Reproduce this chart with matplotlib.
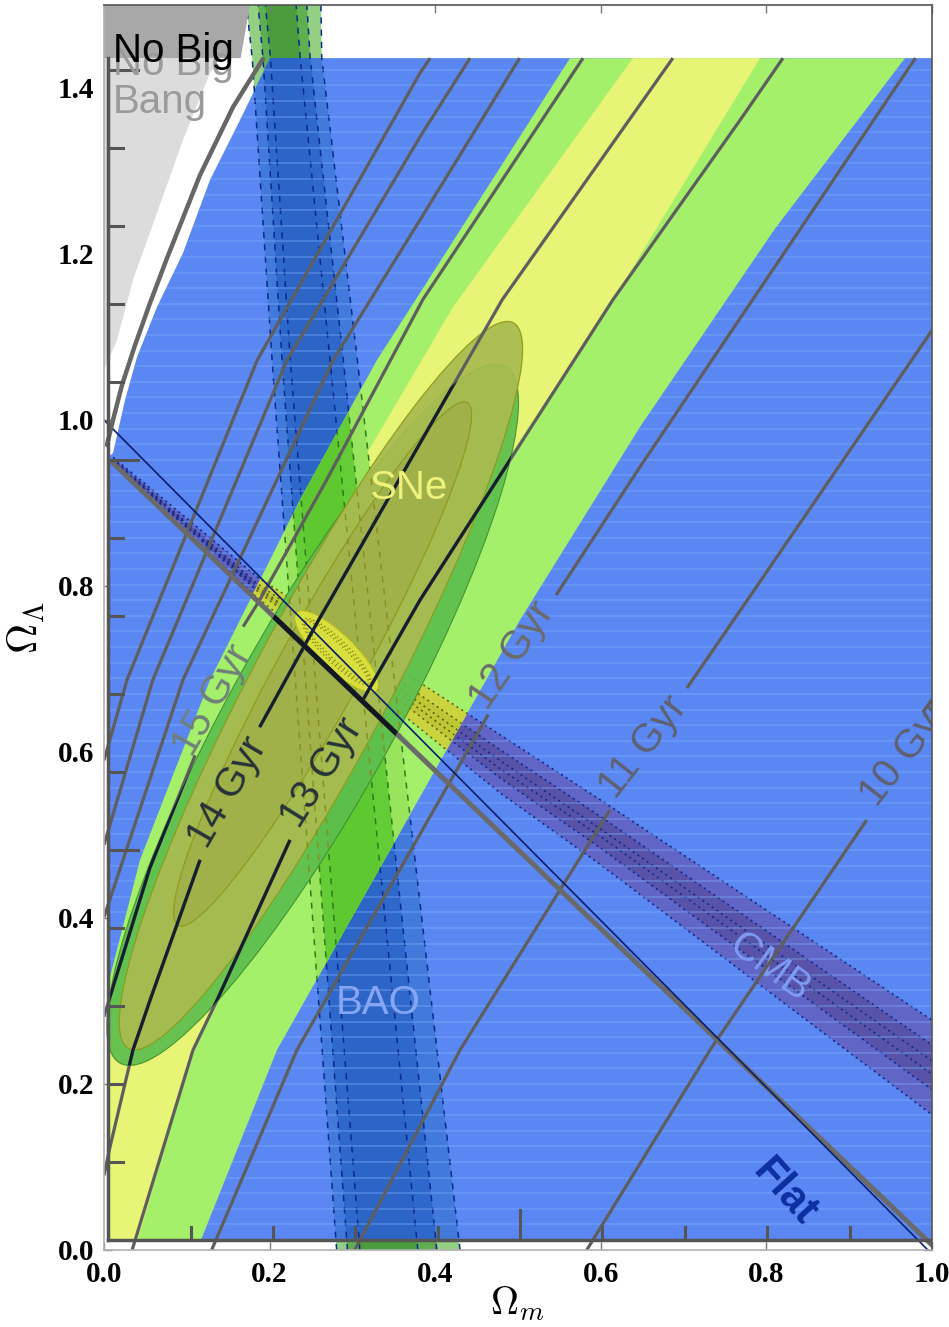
import numpy as np
import matplotlib
matplotlib.use("Agg")
import matplotlib.pyplot as plt
from matplotlib.patches import Polygon, Ellipse, Rectangle

# ---- values, x = Omega_m, y = Omega_Lambda ----
# age contours (NaN = gap left for the label)
age_10_x = [0.583, 0.732, 0.921, np.nan, 0.989, 1.0]
age_10_y = [0.0, 0.241, 0.518, np.nan, 0.648, 0.663]
age_11_x = [0.303, 0.430, 0.611, np.nan, 0.704, 0.777, 1.0]
age_11_y = [0.0, 0.241, 0.530, np.nan, 0.677, 0.783, 1.108]
age_12_x = [0.130, 0.233, 0.464, np.nan, 0.546, 0.647, 0.980]
age_12_y = [0.0, 0.241, 0.645, np.nan, 0.789, 0.943, 1.436]
age_13_x = [0.034, 0.1075, 0.1365, 0.2246, np.nan, 0.3128, 0.3816, 0.6147, 0.768, 0.820]
age_13_y = [0.0, 0.241, 0.301, 0.494, np.nan, 0.663, 0.783, 1.145, 1.361, 1.436]
age_14_x = [0.0, 0.0072, 0.035, 0.0556, 0.116, np.nan, 0.188, 0.257, 0.481, 0.687]
age_14_y = [0.090, 0.124, 0.241, 0.301, 0.470, np.nan, 0.630, 0.755, 1.145, 1.436]
age_15_x = [0.0, 0.0072, 0.0556, 0.110, np.nan, 0.168, 0.188, 0.269, 0.385, 0.5785]
age_15_y = [0.281, 0.305, 0.461, 0.596, np.nan, 0.751, 0.783, 0.928, 1.145, 1.436]
age_16_x = [0.0, 0.0954, 0.2766, 0.3816, 0.502]
age_16_y = [0.401, 0.687, 1.072, 1.241, 1.436]
age_17_x = [0.0, 0.059, 0.221, 0.3816, 0.442]
age_17_y = [0.488, 0.687, 1.072, 1.341, 1.436]
age_18_x = [0.0, 0.0278, 0.185, 0.3816, 0.394]
age_18_y = [0.590, 0.687, 1.072, 1.418, 1.436]

age_labels = ['15 Gyr', '14 Gyr', '13 Gyr', '12 Gyr', '11 Gyr', '10 Gyr']
age_label_x = [0.1316, 0.1498, 0.2633, 0.4928, 0.651, 0.9674]
age_label_y = [0.6627, 0.5518, 0.5747, 0.7169, 0.606, 0.5976]

# supernova band (outer 2 sigma, inner 1 sigma)
sne2_left_x = [0.5628, 0.3816, 0.3297, 0.2367, 0.128, 0.0435, 0.0]
sne2_left_y = [1.436, 1.153, 1.0723, 0.9036, 0.6867, 0.470, 0.301]
sne2_right_x = [0.1123, 0.2089, 0.5024, 0.6473, 0.810, 0.9674]
sne2_right_y = [0.0, 0.241, 0.759, 0.9916, 1.230, 1.436]
sne1_left_x = [0.6389, 0.4215, 0.30, 0.15, 0.05, 0.0]
sne1_left_y = [1.436, 1.1361, 0.93, 0.62, 0.38, 0.26]
sne1_right_x = [0.0374, 0.1075, 0.2548, 0.4867, 0.6147, 0.7923]
sne1_right_y = [0.0, 0.241, 0.5422, 0.9518, 1.1446, 1.436]

# BAO contours: left / right edge at the heights in bao_y
bao_y = [0.0, 1.072, 1.436, 1.5]
bao3_l = [0.281, 0.203, 0.179, 0.172]
bao2_l = [0.294, 0.215, 0.192, 0.186]
bao1_l = [0.309, 0.225, 0.201, 0.195]
bao1_r = [0.379, 0.273, 0.237, 0.232]
bao2_r = [0.402, 0.289, 0.249, 0.245]
bao3_r = [0.430, 0.306, 0.263, 0.262]

# CMB contours: upper / lower edge at cmb_x
cmb_x = [0.011, 0.185, 0.478, 0.600, 1.0]
cmb3_hi = [0.955, 0.811, 0.621, 0.542, 0.277]
cmb2_hi = [0.953, 0.803, 0.603, 0.522, 0.247]
cmb1_hi = [0.952, 0.799, 0.590, 0.507, 0.228]
cmb1_lo = [0.951, 0.797, 0.580, 0.498, 0.212]
cmb2_lo = [0.950, 0.794, 0.569, 0.484, 0.193]
cmb3_lo = [0.948, 0.786, 0.551, 0.464, 0.163]

# combined confidence ellipses (outer -> inner)
ell_cx = [0.252, 0.262, 0.264]
ell_cy = [0.645, 0.680, 0.706]
ell_w = [0.96, 0.99, 0.72]
ell_h = [0.20, 0.165, 0.10]
ell_ang = [61, 62, 61]
blob_c = (0.281, 0.721)
blob_w, blob_h, blob_ang = 0.135, 0.042, -44

# no big bang boundary, overlay edge and grey regions
nbb_x = [0.0036, 0.0109, 0.0217, 0.0374, 0.0556, 0.0761, 0.1159, 0.1558, 0.192]
nbb_y = [0.970, 1.000, 1.042, 1.090, 1.141, 1.195, 1.295, 1.377, 1.435]
edge_x = [0.2005, 0.1643, 0.128, 0.0954, 0.064, 0.0399, 0.0254, 0.0109, 0.005]
edge_y = [1.436, 1.3614, 1.2892, 1.2012, 1.1361, 1.0759, 1.0241, 0.9602, 0.955]
light_x = [0.0, 0.140, 0.128, 0.0954, 0.064, 0.035, 0.0157, 0.0]
light_y = [1.436, 1.436, 1.418, 1.3373, 1.2494, 1.1687, 1.0964, 1.060]
dark_x = [0.0, 0.0, 0.1763, 0.165]
dark_y = [1.436, 1.5, 1.5, 1.436]

flat_x = [0.0, 0.995]
flat_y = [1.0, 0.0]
flat2_x = [0.011, 1.0]
flat2_y = [0.948, 0.006]

# ---- colours ----
BLUE = '#5a87f2'
LG = '#a5f06b'
YEL = '#e7f476'
AGE = '#5e5e5e'

plt.rcParams['font.family'] = ['Liberation Sans', 'DejaVu Sans']
plt.rcParams['mathtext.fontset'] = 'cm'

fig = plt.figure(figsize=(9.49, 13.27), dpi=100)
ax = fig.add_axes([104 / 949, 1 - 1250 / 1327, 828 / 949, 1245 / 1327])
ax.set_xlim(0, 1)
ax.set_ylim(0, 1.5)


def band(left, right, ys):
    return list(zip(left, ys)) + list(zip(right[::-1], ys[::-1]))


def hband(xs, hi, lo):
    return list(zip(xs, hi)) + list(zip(xs[::-1], lo[::-1]))


# BAO seen outside the blue overlay (green)
for l, r, c in [(bao3_l, bao3_r, '#93d083'), (bao2_l, bao2_r, '#5fae50'), (bao1_l, bao1_r, '#4b9c3d')]:
    ax.add_patch(Polygon(band(l, r, bao_y), closed=True, fc=c, ec='none', zorder=1))

# blue overlay region
blue_pts = [(0.005, 0.012), (1.0, 0.012), (1.0, 1.436)] + list(zip(edge_x, edge_y))
blue = Polygon(blue_pts, closed=True, fc=BLUE, ec='none', zorder=2)
ax.add_patch(blue)

# BAO over blue
for l, r, c in [(bao3_l, bao3_r, '#417ada'), (bao2_l, bao2_r, '#2f68cb'), (bao1_l, bao1_r, '#2d65c7')]:
    ax.add_patch(Polygon(band(l, r, bao_y), closed=True, fc=c, ec='none', zorder=3, clip_path=blue))

# CMB over blue
ax.add_patch(Polygon(hband(cmb_x, cmb3_hi, cmb3_lo), closed=True, fc='#6165c6', ec='none',
                     zorder=3.4, clip_path=blue))
ax.add_patch(Polygon(hband(cmb_x, cmb2_hi, cmb2_lo), closed=True, fc='#5853a8', ec='none',
                     zorder=3.45, clip_path=blue))

bao_edges = [bao3_l, bao2_l, bao1_l, bao1_r, bao2_r, bao3_r]
cmb_edges = [cmb3_hi, cmb2_hi, cmb1_hi, cmb1_lo, cmb2_lo, cmb3_lo]


def bao_dashes(color, z, clip):
    for e in bao_edges:
        ax.plot(e, bao_y, color=color, lw=1.1, ls=(0, (4, 4)), zorder=z, clip_path=clip)


def cmb_dots(color, z, clip):
    for e in cmb_edges:
        ax.plot(cmb_x, e, color=color, lw=1.2, ls=(0, (1.2, 2.2)), zorder=z, clip_path=clip)


bao_dashes('#0a2a8c', 3.5, ax.patch)
cmb_dots('#0a2a8c', 3.6, blue)

# faint horizontal grid on the overlay
for yy in np.arange(0.012, 1.436, 0.0188):
    ax.plot([0, 1], [yy, yy], color='#7fb0ff', lw=1.1, alpha=0.45, zorder=3.9, clip_path=blue)

# supernova band
lg_pts = list(zip(sne2_left_x, sne2_left_y)) + [(0.0, 0.0)] + list(zip(sne2_right_x, sne2_right_y))
lg = Polygon(lg_pts, closed=True, fc=LG, ec='none', zorder=4, clip_path=blue)
ax.add_patch(lg)
ye_pts = list(zip(sne1_left_x, sne1_left_y)) + [(0.0, 0.0)] + list(zip(sne1_right_x, sne1_right_y))
ax.add_patch(Polygon(ye_pts, closed=True, fc=YEL, ec='none', zorder=4.1, clip_path=blue))

# BAO and CMB where they cross the supernova band
for l, r, c in [(bao3_l, bao3_r, '#98e45c'), (bao2_l, bao2_r, '#64cc36'), (bao1_l, bao1_r, '#5dc830')]:
    ax.add_patch(Polygon(band(l, r, bao_y), closed=True, fc=c, ec='none', zorder=5, clip_path=lg))
ax.add_patch(Polygon(hband(cmb_x, cmb3_hi, cmb3_lo), closed=True, fc='#cbd43e', ec='none',
                     zorder=5.1, clip_path=lg))
ax.add_patch(Polygon(hband(cmb_x, cmb2_hi, cmb2_lo), closed=True, fc='#bec734', ec='none',
                     zorder=5.15, clip_path=lg))
bao_dashes('#2f7a1c', 5.2, lg)
cmb_dots('#5a6418', 5.3, lg)

# combined ellipses
eg = Ellipse((ell_cx[0], ell_cy[0]), ell_w[0], ell_h[0], angle=ell_ang[0], fc='#5dbf4e',
             ec='#3f8f30', lw=0.8, alpha=0.93, zorder=6)
ax.add_patch(eg)
ax.add_patch(Ellipse((ell_cx[1], ell_cy[1]), ell_w[1], ell_h[1], angle=ell_ang[1], fc='#a9bb50',
                     ec='#8e9a1c', lw=0.9, alpha=0.93, zorder=6.1))
ax.add_patch(Ellipse((ell_cx[2], ell_cy[2]), ell_w[2], ell_h[2], angle=ell_ang[2], fc='#a0b14a',
                     ec='#8e9a1c', lw=0.9, alpha=0.95, zorder=6.2))
bao_dashes('#8a9020', 6.5, eg)

# small combined contour
ax.add_patch(Ellipse(blob_c, blob_w, blob_h, angle=blob_ang, fc='#d8df3e', ec='#b8bd20',
                     lw=0.8, zorder=7))
for k in (-0.3, 0.0, 0.3):
    ax.add_patch(Ellipse(blob_c, blob_w * (0.8 + 0.1 * k), blob_h * (0.55 + 0.4 * k), angle=blob_ang,
                         fc='none', ec='#8a8a10', lw=1.0, ls=(0, (1, 2)), zorder=7.1))

# age contours
ages = [(age_10_x, age_10_y), (age_11_x, age_11_y), (age_12_x, age_12_y), (age_13_x, age_13_y),
        (age_14_x, age_14_y), (age_15_x, age_15_y), (age_16_x, age_16_y), (age_17_x, age_17_y),
        (age_18_x, age_18_y)]
for x, y in ages:
    ax.plot(x, y, color=AGE, lw=2.3, zorder=8, solid_capstyle='butt')
    ax.plot(x, y, color='#16202c', lw=2.3, zorder=8.1, solid_capstyle='butt', clip_path=eg)

# flat universe lines
ax.plot(flat2_x, flat2_y, color='#6a6a6a', lw=3.6, zorder=8.3)
ax.plot(flat2_x, flat2_y, color='#111820', lw=3.6, zorder=8.35, clip_path=eg)
ax.plot(flat_x, flat_y, color='#0a1e6e', lw=1.2, zorder=8.4)

# no big bang corner
ax.add_patch(Polygon(list(zip(light_x, light_y)), closed=True, fc='#dcdcdc', ec='none', zorder=9))
ax.add_patch(Polygon(list(zip(dark_x, dark_y)), closed=True, fc='#a8a8a8', ec='none', zorder=9))
ax.plot(nbb_x, nbb_y, color='#666666', lw=3.2, zorder=9.1, solid_capstyle='round')

# overlay frame with its own ticks
ax.plot([0.005, 0.005], [0.012, 1.436], color='#555555', lw=2.5, zorder=9.5)
ax.plot([0.005, 1.0], [0.012, 0.012], color='#555555', lw=2.5, zorder=9.5)
for k in range(1, 16):
    yy = 0.012 + k * 0.094
    ln = 0.036 if k % 5 == 0 else 0.018
    ax.plot([0.005, 0.005 + ln], [yy, yy], color='#555555', lw=2.2, zorder=9.5)
for k in range(1, 10):
    xx = 0.005 + k * 0.0995
    ln = 0.036 if k % 5 == 0 else 0.016
    ax.plot([xx, xx], [0.012, 0.012 + ln], color='#555555', lw=2.2, zorder=9.5)

# labels
txt = dict(family='Liberation Sans', fontsize=29)
lower = Rectangle((0, 0), 1, 1.436, transform=ax.transData)
upper = Rectangle((0, 1.436), 1, 0.07, transform=ax.transData)
g1 = ax.text(0.011, 1.4157, 'No Big', color='#9a9a9a', va='baseline', zorder=10, **txt)
g2 = ax.text(0.011, 1.3699, 'Bang', color='#9a9a9a', va='baseline', zorder=10, **txt)
g1.set_clip_path(lower)
g2.set_clip_path(lower)
nb = ax.text(0.011, 1.431, 'No Big', color='black', va='baseline', zorder=10.1, **txt)
nb.set_clip_path(upper)

age_col = ['#6f7f7a', '#263238', '#263238', '#6a6a6a', '#5f6070', '#5f6070']
age_rot = [60, 60, 58, 56, 52, 52]
for s, x, y, c, r in zip(age_labels, age_label_x, age_label_y, age_col, age_rot):
    ax.text(x, y, s, color=c, rotation=r, rotation_mode='anchor', ha='center', va='center',
            zorder=8.5, clip_on=True, **txt)

ax.text(0.367, 0.918, 'SNe', color='#eef27a', ha='center', va='center', zorder=10, **txt)
ax.text(0.331, 0.298, 'BAO', color='#86a6f4', ha='center', va='center', zorder=7.5, **txt)
ax.text(0.804, 0.340, 'CMB', color='#7e9cf2', rotation=-36, rotation_mode='anchor',
        ha='center', va='center', zorder=7.5, **txt)
ax.text(0.822, 0.070, 'Flat', color='#0d2fa0', rotation=-48, rotation_mode='anchor',
        ha='center', va='center', fontweight='bold', zorder=10, family='Liberation Sans', fontsize=30)

# axes
ax.set_xticks([0.0, 0.2, 0.4, 0.6, 0.8, 1.0])
ax.set_xticklabels(['0.0', '0.2', '0.4', '0.6', '0.8', '1.0'])
ax.set_yticks([0.0, 0.2, 0.4, 0.6, 0.8, 1.0, 1.2, 1.4])
ax.set_yticklabels(['0.0', '0.2', '0.4', '0.6', '0.8', '1.0', '1.2', '1.4'])
ax.tick_params(direction='in', length=6, width=1, color='#777777', top=True, right=True,
               labelsize=21)
ax.tick_params(axis='x', pad=8)
ax.tick_params(axis='y', pad=7)
for lbl in ax.get_xticklabels() + ax.get_yticklabels():
    lbl.set_fontfamily('Liberation Serif')
    lbl.set_fontweight('bold')
for side in ['left', 'bottom']:
    ax.spines[side].set_color('#b0b0b0')
for side in ['top', 'right']:
    ax.spines[side].set_color('#555555')
for sp in ax.spines.values():
    sp.set_linewidth(1.2)
    sp.set_zorder(11)

ax.set_xlabel(r'$\Omega_m$', fontsize=28, labelpad=-3)
ax.set_ylabel(r'$\Omega_\Lambda$', fontsize=30, labelpad=8)

fig.savefig('out.png', dpi=100, facecolor='white')
